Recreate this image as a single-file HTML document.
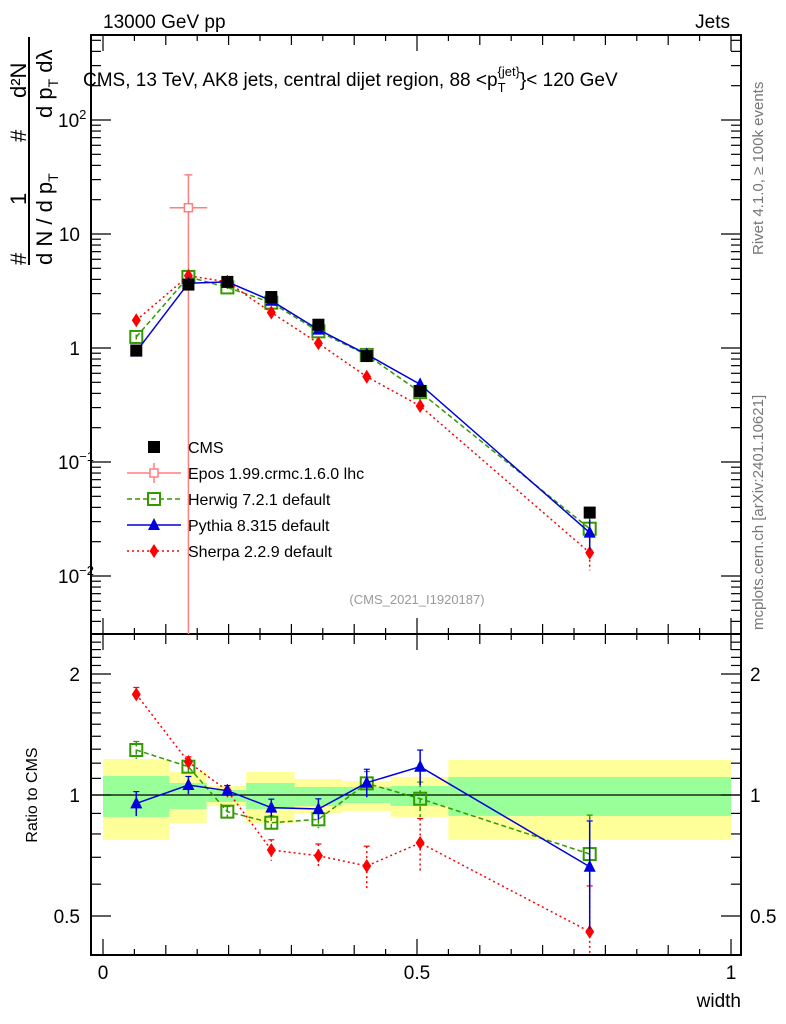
<!DOCTYPE html>
<html><head><meta charset="utf-8"><style>
body{margin:0;background:#fff}
svg{display:block;font-family:"Liberation Sans",sans-serif}
</style></head><body>
<svg id="c" width="786" height="1024" viewBox="0 0 786 1024" xmlns="http://www.w3.org/2000/svg">
<rect width="786" height="1024" fill="#fff"/>
<g id="bands"></g><g id="axes"></g><g id="series"></g><g id="legend"></g>
<text x="103" y="28" font-size="19">13000 GeV pp</text>
<text x="730" y="28" font-size="19" text-anchor="end">Jets</text>
<text x="83" y="86" font-size="19">CMS, 13 TeV, AK8 jets, central dijet region, 88 &lt;p<tspan font-size="13" dy="6">T</tspan><tspan font-size="13" dy="-16" dx="-8">{jet}</tspan><tspan dy="10">}&lt; 120 GeV</tspan></text>
<text transform="translate(763,255) rotate(-90)" font-size="15" fill="#777">Rivet 4.1.0, ≥ 100k events</text>
<text transform="translate(763,630) rotate(-90)" font-size="15" fill="#777">mcplots.cern.ch [arXiv:2401.10621]</text>
<text x="417" y="604" font-size="13" fill="#999" text-anchor="middle">(CMS_2021_I1920187)</text>
<g font-size="22">
<line x1="29" y1="37" x2="29" y2="265" stroke="#000" stroke-width="2"/>
<text transform="translate(26,265) rotate(-90)">#</text>
<text transform="translate(26,205) rotate(-90)">1</text>
<text transform="translate(26,142) rotate(-90)">#</text>
<text transform="translate(26,98) rotate(-90)">d²N</text>
<text transform="translate(52,265) rotate(-90)">d N / d p<tspan font-size="14" dy="6">T</tspan></text>
<text transform="translate(52,118) rotate(-90)">d p<tspan font-size="14" dy="6">T</tspan><tspan dy="-6"> dλ</tspan></text>
</g>
<text transform="translate(37,795) rotate(-90)" font-size="16" text-anchor="middle">Ratio to CMS</text>
<text x="741" y="1007" font-size="19" text-anchor="end">width</text>
</svg>
<script>
const xVals=[0.053,0.136,0.198,0.268,0.343,0.42,0.505,0.775];
const binEdges=[0,0.106,0.165,0.228,0.305,0.381,0.458,0.55,1.0];
const cmsMain=[0.95,3.6,3.8,2.8,1.6,0.85,0.42,0.036];
const herwigMain=[1.25,4.2,3.4,2.5,1.4,0.87,0.41,0.026];
const pythiaMain=[0.93,3.7,3.8,2.6,1.45,0.88,0.48,0.024];
const sherpaMain=[1.75,4.3,3.8,2.05,1.1,0.56,0.31,0.016];
const herwigRatio=[1.294,1.176,0.909,0.853,0.87,1.069,0.979,0.713];
const pythiaRatio=[0.953,1.059,1.025,0.93,0.923,1.073,1.176,0.663];
const sherpaRatio=[1.78,1.208,1.025,0.73,0.706,0.666,0.76,0.457];
const herwigErr=[0.05,0.04,0.03,0.04,0.05,0.07,0.1,0.25];
const pythiaErr=[0.07,0.05,0.03,0.05,0.06,0.08,0.1,0.3];
const sherpaErr=[0.04,0.03,0.03,0.06,0.07,0.12,0.15,0.3];
const eposX=[0.136], eposXerr=[0.03], eposMain=[17], eposUp=[33], eposDown=[0.0031];
const bandYellowHi=[1.229,1.141,1.053,1.141,1.096,1.083,1.109,1.222];
const bandYellowLo=[0.773,0.852,0.939,0.852,0.902,0.912,0.882,0.773];
const bandGreenHi=[1.115,1.071,1.029,1.071,1.047,1.047,1.053,1.109];
const bandGreenLo=[0.882,0.923,0.961,0.923,0.939,0.955,0.939,0.887];
const xTicks=[0,0.5,1], xTickLabels=["0","0.5","1"];
const mainTicks=[0.01,0.1,1,10,100];
const ratioTicks=[0.5,1,2], ratioTickLabels=["0.5","1","2"];

const NS="http://www.w3.org/2000/svg";
const L=91,R=741,MT=35,MB=634,RB=955;
const X=v=>103+v*628;
const YM=v=>348-Math.log10(v)*114;
const YR=v=>795-Math.log10(v)*402;
function mk(p,tag,a){const e=document.createElementNS(NS,tag);for(const k in a)e.setAttribute(k,a[k]);p.appendChild(e);return e;}
const G=id=>document.getElementById(id);
const bands=G('bands'),axes=G('axes'),ser=G('series'),leg=G('legend');

for(let i=0;i<8;i++){
 const y=mk(bands,'rect',{x:X(binEdges[i]),y:YR(bandYellowHi[i]),width:X(binEdges[i+1])-X(binEdges[i]),height:YR(bandYellowLo[i])-YR(bandYellowHi[i]),fill:'#ffff99'});
 
 
 const g=mk(bands,'rect',{x:X(binEdges[i]),y:YR(bandGreenHi[i]),width:X(binEdges[i+1])-X(binEdges[i]),height:YR(bandGreenLo[i])-YR(bandGreenHi[i]),fill:'#99ff99'});
 
 
}
mk(bands,'line',{x1:L,x2:R,y1:YR(1),y2:YR(1),stroke:'#000','stroke-width':1.2});

for(const [t,b] of [[MT,MB],[MB,RB]]){
 const f=mk(axes,'rect',{x:L,y:t,width:R-L,height:b-t,fill:'none',stroke:'#000','stroke-width':2});
 
 
}
for(let v=0;v<=1.0001;v+=0.05){
 const major=Math.abs(v*2-Math.round(v*2))<1e-6, mid=Math.abs(v*10-Math.round(v*10))<1e-6;
 const len=major?16:(mid?10:6);
 for(const [b,tp] of [[MB,MT],[RB,MB]]){
  mk(axes,'line',{x1:X(v),x2:X(v),y1:b,y2:b-len,stroke:'#000','stroke-width':1.2});
  mk(axes,'line',{x1:X(v),x2:X(v),y1:tp,y2:tp+len,stroke:'#000','stroke-width':1.2});
 }
}
xTicks.forEach((v,i)=>{const t=mk(axes,'text',{x:X(v),y:979,'font-size':19,'text-anchor':'middle'});t.textContent=xTickLabels[i];
 });
for(let d=-3;d<=2;d++)for(let m=1;m<10;m++){
 const v=m*Math.pow(10,d),y=YM(v);if(y<MT||y>MB)continue;
 const len=m==1?20:10;
 mk(axes,'line',{x1:L,x2:L+len,y1:y,y2:y,stroke:'#000','stroke-width':1.2});
 mk(axes,'line',{x1:R,x2:R-len,y1:y,y2:y,stroke:'#000','stroke-width':1.2});
}
const mainLabels=['10<tspan dy="-8" font-size="13">−2</tspan>','10<tspan dy="-8" font-size="13">−1</tspan>','1','10','10<tspan dy="-8" font-size="13">2</tspan>'];
mainTicks.forEach((v,i)=>{const t=mk(axes,'text',{x:i>=2&&i<=3?80:74,y:YM(v)+7,'font-size':19,'text-anchor':'end'});t.innerHTML=mainLabels[i];
 if(i==0||i==1||i==4)t.setAttribute('x',58);
 t.setAttribute('text-anchor',i==0||i==1||i==4?'start':'end');
 });
for(let v=0.4;v<=2.5;v+=0.1){
 const y=YR(v);if(y<MB||y>RB)continue;
 const big=ratioTicks.some(r=>Math.abs(r-v)<1e-6);const len=big?20:10;
 mk(axes,'line',{x1:L,x2:L+len,y1:y,y2:y,stroke:'#000','stroke-width':1.2});
 mk(axes,'line',{x1:R,x2:R-len,y1:y,y2:y,stroke:'#000','stroke-width':1.2});
}
ratioTicks.forEach((v,i)=>{
 const a=mk(axes,'text',{x:80,y:YR(v)+7,'font-size':19,'text-anchor':'end'});a.textContent=ratioTickLabels[i];
 
 const b=mk(axes,'text',{x:750,y:YR(v)+7,'font-size':19});b.textContent=ratioTickLabels[i];
 });

function marker(p,type,x,y,c){
 if(type=='sq')return mk(p,'rect',{x:x-6,y:y-6,width:12,height:12,fill:'#000'});
 if(type=='osq')return mk(p,'rect',{x:x-6,y:y-6,width:12,height:12,fill:'none',stroke:c,'stroke-width':2});
 if(type=='tri')return mk(p,'polygon',{points:`${x},${y-7} ${x+6},${y+5} ${x-6},${y+5}`,fill:c});
 if(type=='dia')return mk(p,'polygon',{points:`${x},${y-7} ${x+4.5},${y} ${x},${y+7} ${x-4.5},${y}`,fill:c});
 if(type=='cross')return mk(p,'rect',{x:x-4,y:y-4,width:8,height:8,fill:'#fff',stroke:c,'stroke-width':1.5});
}
function series(name,vals,ratio,err,color,dash,type,sw){
 const g=mk(ser,'g',{});
 
 
 const ptsM=xVals.map((x,i)=>X(x)+','+YM(vals[i])).join(' ');
 mk(g,'polyline',{points:ptsM,fill:'none',stroke:color,'stroke-width':sw,'stroke-dasharray':dash});
 if(ratio){
  const ptsR=xVals.map((x,i)=>X(x)+','+Math.min(RB,YR(ratio[i]))).join(' ');
  mk(g,'polyline',{points:ptsR,fill:'none',stroke:color,'stroke-width':sw,'stroke-dasharray':dash});
 }
 xVals.forEach((x,i)=>{
  const e=err[i];
  mk(g,'line',{x1:X(x),x2:X(x),y1:YM(vals[i]*(1+e)),y2:YM(vals[i]*(1-e)),stroke:color,'stroke-width':1.5,'stroke-dasharray':dash});
  const m=marker(g,type,X(x),YM(vals[i]),color);
  
  
  if(ratio){
   const yy=YR(ratio[i]);
   mk(g,'line',{x1:X(x),x2:X(x),y1:YR(ratio[i]*(1+e)),y2:Math.min(RB,YR(ratio[i]*(1-e))),stroke:color,'stroke-width':1.5,'stroke-dasharray':dash});
   mk(g,'line',{x1:X(x)-3,x2:X(x)+3,y1:YR(ratio[i]*(1+e)),y2:YR(ratio[i]*(1+e)),stroke:color,'stroke-width':1.2});
   if(yy<RB){const r=marker(g,type,X(x),yy,color);
    
    }
  }
 });
}
{
 const g=mk(ser,'g',{});
 
 
 eposX.forEach((x,i)=>{
  mk(g,'line',{x1:X(x),x2:X(x),y1:YM(eposUp[i]),y2:Math.min(MB,YM(eposDown[i])),stroke:'#ff7f7f','stroke-width':1.5});
  mk(g,'line',{x1:X(x-eposXerr[i]),x2:X(x+eposXerr[i]),y1:YM(eposMain[i]),y2:YM(eposMain[i]),stroke:'#ff7f7f','stroke-width':1.5});
  mk(g,'line',{x1:X(x)-4,x2:X(x)+4,y1:YM(eposUp[i]),y2:YM(eposUp[i]),stroke:'#ff7f7f','stroke-width':1.5});
  const m=marker(g,'cross',X(x),YM(eposMain[i]),'#ff7f7f');
  
  
 });
}
series('herwig',herwigMain,herwigRatio,herwigErr,'#339900','5,3','osq',1.5);
series('sherpa',sherpaMain,sherpaRatio,sherpaErr,'#ff0000','2,3','dia',1.5);
series('pythia',pythiaMain,pythiaRatio,pythiaErr,'#0000dd','','tri',1.5);
{
 const g=mk(ser,'g',{});
 
 
 xVals.forEach((x,i)=>{const m=marker(g,'sq',X(x),YM(cmsMain[i]),'#000');
  
  });
}
const legNames=['CMS','Epos 1.99.crmc.1.6.0 lhc','Herwig 7.2.1 default','Pythia 8.315 default','Sherpa 2.2.9 default'];
const legStyle=[['#000','','sq'],['#ff7f7f','','cross'],['#339900','5,3','osq'],['#0000dd','','tri'],['#ff0000','2,3','dia']];
legNames.forEach((n,i)=>{
 const y=447+i*26;const g=mk(leg,'g',{});
 
 
 const [c,d,t]=legStyle[i];
 if(i>0)mk(g,'line',{x1:127,x2:181,y1:y,y2:y,stroke:c,'stroke-width':1.5,'stroke-dasharray':d});
 if(i==1)mk(g,'line',{x1:154,x2:154,y1:y-10,y2:y+10,stroke:c,'stroke-width':1.5});
 marker(g,t,154,y,c);
 const tx=mk(g,'text',{x:188,y:y+6,'font-size':16});tx.textContent=n;
});
</script>
</body></html>
